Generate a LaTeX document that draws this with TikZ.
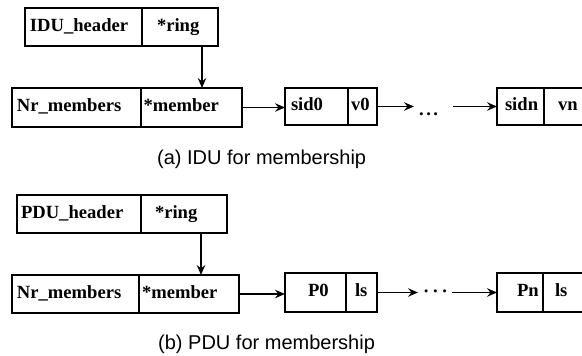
\documentclass[tikz,border=0pt]{standalone}
\usepackage{fontspec}
\setmainfont{Liberation Serif}
\newfontfamily\capfont{Liberation Sans}
\usetikzlibrary{arrows.meta}

\tikzset{
  cell/.style={draw, line width=1.5pt, inner xsep=0pt, inner ysep=0pt,
    outer sep=0pt, align=left, anchor=north west,
    font=\bfseries\fontsize{18.6}{22}\selectfont},
  arr/.style={line width=1.5pt, -{Stealth[length=10pt,width=8.5pt,inset=3.5pt]}},
  dotstxt/.style={inner sep=0pt, anchor=base west,
    font=\bfseries\fontsize{18.6}{22}\selectfont},
  captxt/.style={inner sep=0pt, anchor=base west,
    font=\capfont\fontsize{20}{24}\selectfont}
}

% one field of a record: name, left x, top y, width, height, left padding, text
\newcommand\fieldbox[7]{%
  \node[cell, text width=#4pt, minimum height=#5pt] (#1) at (#2,#3)
    {\hspace*{#6pt}#7\strut};}

\begin{document}
\begin{tikzpicture}[x=1pt, y=-1pt]
\useasboundingbox (0,0) rectangle (582,356);

% ---------- (a) IDU ----------
\fieldbox{idh}{25}{8}{117}{38}{5}{IDU\_header}
\fieldbox{ring}{142}{8}{76}{38}{15}{*ring}
\fieldbox{nrm}{12}{88}{129}{39}{5}{Nr\_members}
\fieldbox{mem}{141}{88}{101}{39}{2.5}{*member}
\fieldbox{sidz}{285}{88}{63}{37}{6}{sid0}
\fieldbox{vz}{348}{88}{29}{37}{3}{v0}
\fieldbox{sidn}{497}{88}{47}{37}{8}{sidn}
\fieldbox{vn}{544}{88}{70}{37}{14}{vn}

\draw[arr] ([xshift=22pt]ring.south) -- ([xshift=22pt]ring.south |- mem.north);
\draw[arr] (mem.east) -- (mem.east -| sidz.west);
\coordinate (ta) at (414,107);
\coordinate (tb) at (453,107);
\node[dotstxt] (tdots) at (419,115) {.\kern2.5pt.\kern2.5pt.};
\draw[arr] (vz.east) -- (vz.east -| ta);
\draw[arr] (tb |- sidn.west) -- (sidn.west);

\node[captxt] (capa) at (157,164) {(a) IDU for membership};

% ---------- (b) PDU ----------
\fieldbox{pdh}{17}{195}{124}{38}{4}{PDU\_header}
\fieldbox{ringb}{141}{195}{86}{38}{14}{*ring}
\fieldbox{nrmb}{12}{275}{127}{38}{5}{Nr\_members}
\fieldbox{memb}{139}{275}{100}{38}{3}{*member}
\fieldbox{pz}{285}{273}{61}{39}{23}{P0}
\fieldbox{lsz}{346}{273}{31}{39}{9}{ls}
\fieldbox{pn}{497}{273}{46}{39}{20}{Pn}
\fieldbox{lsn}{543}{273}{70}{39}{12}{ls}

\draw[arr] ([xshift=17pt]ringb.south) -- ([xshift=17pt]ringb.south |- memb.north);
\draw[arr] (memb.east) -- (memb.east -| pz.west);
\coordinate (ba) at (418,293);
\coordinate (bb) at (452,293);
\node[dotstxt] (bdots) at (423,297) {·\kern3pt·\kern3pt·};
\draw[arr] (lsz.east) -- (lsz.east -| ba);
\draw[arr] (bb |- pn.west) -- (pn.west);

\node[captxt] (capb) at (158,349) {(b) PDU for membership};
\end{tikzpicture}
\end{document}
